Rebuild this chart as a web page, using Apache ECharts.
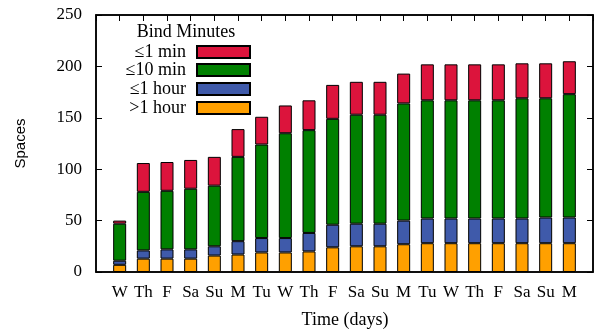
<!DOCTYPE html>
<html>
<head>
<meta charset="utf-8">
<script src="https://cdn.jsdelivr.net/npm/echarts@6/dist/echarts.min.js"></script>
<style>
  html, body { margin: 0; padding: 0; background: #fff; }
  #main { width: 601px; height: 329px; }
</style>
</head>
<body>
<div id="main"></div>
<script>
    // days on the x axis (empty slots pad both ends like the original xrange)
    var days = ['W', 'Th', 'F', 'Sa', 'Su', 'M', 'Tu', 'W', 'Th', 'F', 'Sa', 'Su', 'M', 'Tu', 'W', 'Th', 'F', 'Sa', 'Su', 'M'];
    var yTicks = [0, 50, 100, 150, 200, 250];

    // stacked segments, bottom to top
    var overHour = [7, 13, 13, 13, 16, 17, 19, 19, 20, 24, 25, 25, 27, 28, 28, 28, 28, 28, 28, 28];
    var upToHour = [4, 8, 9, 9, 9, 13, 14, 14, 18, 22, 22, 22, 23, 24, 24, 24, 24, 24, 25, 25];
    var upTo10Min = [36, 57, 57, 59, 59, 82, 91, 102, 100, 103, 106, 106, 114, 115, 115, 115, 115, 117, 116, 120];
    var upTo1Min = [3, 28, 28, 28, 28, 27, 27, 27, 29, 33, 32, 32, 29, 35, 35, 35, 35, 34, 34, 32];

    var names = ['≤1 min', '≤10 min', '≤1 hour', '>1 hour'];
    var colors = ['#DC143C', '#008000', '#3F5AAA', '#FFA000'];

    var serif = 'Liberation Serif';
    var cats = [''].concat(days, ['']);

    function pad(arr) {
        return [null].concat(arr, [null]);
    }

    function bar(name, color, values) {
        return {
            name: name,
            type: 'bar',
            stack: 'all',
            barWidth: 13,
            data: pad(values),
            itemStyle: { color: color, borderColor: '#000', borderWidth: 1 }
        };
    }

    // one legend per row so the swatches line up on the right
    var legendTops = [43, 61, 80, 99];
    var legends = names.map(function (n, i) {
        return {
            data: [n],
            orient: 'vertical',
            right: 350,
            top: legendTops[i],
            padding: 0,
            align: 'right',
            icon: 'rect',
            itemWidth: 53,
            itemHeight: 12,
            selectedMode: false,
            textStyle: { fontFamily: serif, fontSize: 18, color: '#000', lineHeight: 18, padding: [0, 6, 0, 0] }
        };
    });

    var line = { show: true, onZero: false, lineStyle: { color: '#000', width: 1.5 } };
    var tick = { show: true, inside: true, length: 6, interval: 0, lineStyle: { color: '#000', width: 1 } };

    var myChart = echarts.init(document.getElementById('main'));
    myChart.setOption({
        animation: false,
        backgroundColor: '#fff',
        title: [{
            text: 'Bind Minutes',
            left: 186,
            top: 23,
            padding: 0,
            textAlign: 'center',
            textStyle: { fontFamily: serif, fontSize: 18, fontWeight: 'normal', color: '#000' }
        }, {
            text: 'Time (days)',
            left: 345,
            top: 311,
            padding: 0,
            textAlign: 'center',
            textStyle: { fontFamily: serif, fontSize: 18, fontWeight: 'normal', color: '#000' }
        }],
        legend: legends,
        grid: { left: 96, right: 8, top: 15, bottom: 57, show: true, borderColor: '#000', borderWidth: 1.5, backgroundColor: 'transparent' },
        xAxis: [{
            type: 'category',
            data: cats,
            boundaryGap: false,
            axisLine: line,
            axisTick: { show: false },
            axisLabel: { fontFamily: serif, fontSize: 17, color: '#000', margin: 12, interval: 0 }
        }, {
            type: 'category',
            position: 'top',
            data: cats,
            boundaryGap: false,
            axisLine: line,
            axisTick: tick,
            axisLabel: { show: false }
        }],
        yAxis: [{
            type: 'value',
            min: yTicks[0],
            max: yTicks[yTicks.length - 1],
            interval: 50,
            name: 'Spaces',
            nameLocation: 'middle',
            nameGap: 68,
            nameTextStyle: { fontFamily: 'Liberation Sans', fontSize: 15, color: '#000' },
            axisLine: line,
            axisTick: tick,
            axisLabel: { fontFamily: serif, fontSize: 17, color: '#000', margin: 14 },
            splitLine: { show: false }
        }, {
            type: 'value',
            position: 'right',
            min: yTicks[0],
            max: yTicks[yTicks.length - 1],
            interval: 50,
            axisLine: line,
            axisTick: tick,
            axisLabel: { show: false },
            splitLine: { show: false }
        }],
        series: [
            bar(names[3], colors[3], overHour),
            bar(names[2], colors[2], upToHour),
            bar(names[1], colors[1], upTo10Min),
            bar(names[0], colors[0], upTo1Min),
            // empty series so the mirrored top/right axes are laid out with ticks
            { type: 'bar', xAxisIndex: 1, yAxisIndex: 1, data: [] }
        ]
    });
</script>
</body>
</html>
